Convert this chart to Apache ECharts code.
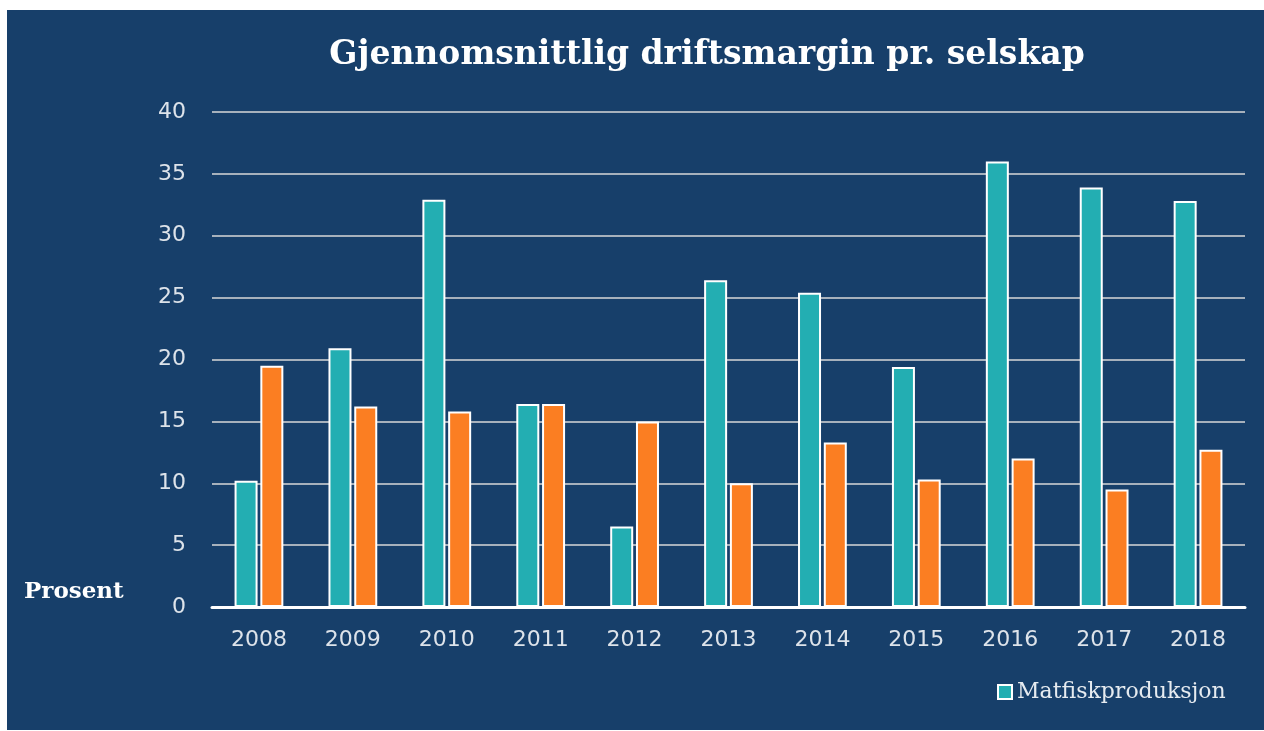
<!DOCTYPE html>
<html>
<head>
<meta charset="utf-8">
<script src="https://cdn.jsdelivr.net/npm/echarts@6/dist/echarts.min.js"></script>
<style>
html,body{margin:0;padding:0;background:#ffffff;}
#chart{position:absolute;left:7px;top:10px;width:1257px;height:720px;}
</style>
</head>
<body>
<div id="chart"></div>
<script>
var years = ['2008','2009','2010','2011','2012','2013','2014','2015','2016','2017','2018'];
var matfisk = [10.2, 20.9, 32.9, 16.4, 6.5, 26.4, 25.4, 19.4, 36.0, 33.9, 32.8];
var other = [19.5, 16.2, 15.8, 16.4, 15.0, 10.0, 13.3, 10.3, 12.0, 9.5, 12.7];
var titleText = 'Gjennomsnittlig driftsmargin pr. selskap';
var yLabel = 'Prosent';

var chart = echarts.init(document.getElementById('chart'));
chart.setOption({
  backgroundColor: '#173f6a',
  animation: false,
  title: {
    text: titleText,
    left: 695, top: 24, textAlign: 'center',
    textStyle: {color: '#ffffff', fontFamily: 'DejaVu Serif', fontWeight: 'bold', fontSize: 33}
  },
  legend: {
    data: ['Matfiskproduksjon'],
    left: 990, top: 671, padding: 0,
    itemWidth: 14, itemHeight: 14, itemGap: 6,
    icon: 'rect',
    textStyle: {color: '#e6ebf0', fontFamily: 'DejaVu Serif', fontSize: 22}
  },
  grid: {left: 205, right: 19, top: 102, bottom: 123},
  xAxis: {
    type: 'category', data: years,
    axisLine: {lineStyle: {color: '#ffffff', width: 3}},
    axisTick: {show: false},
    axisLabel: {color: '#dde3ea', fontFamily: 'DejaVu Sans', fontSize: 22, margin: 22}
  },
  yAxis: {
    type: 'value', min: 0, max: 40, interval: 5,
    axisLine: {show: false}, axisTick: {show: false},
    splitLine: {lineStyle: {color: '#d9d9d9', width: 1.5}},
    axisLabel: {color: '#dde3ea', fontFamily: 'DejaVu Sans', fontSize: 22, margin: 26}
  },
  graphic: [{
    type: 'text', left: 17, top: 571,
    style: {text: yLabel, fill: '#ffffff', font: 'bold 23px "DejaVu Serif"'}
  }],
  series: [{
    name: 'Matfiskproduksjon', type: 'bar', data: matfisk,
    barWidth: '24.5%', barGap: '12%',
    itemStyle: {color: '#23aeb2', borderColor: '#ffffff', borderWidth: 2}
  }, {
    name: 'Total', type: 'bar', data: other,
    barWidth: '24.5%', barGap: '12%',
    itemStyle: {color: '#fb7e22', borderColor: '#ffffff', borderWidth: 2}
  }]
});
</script>
</body>
</html>
